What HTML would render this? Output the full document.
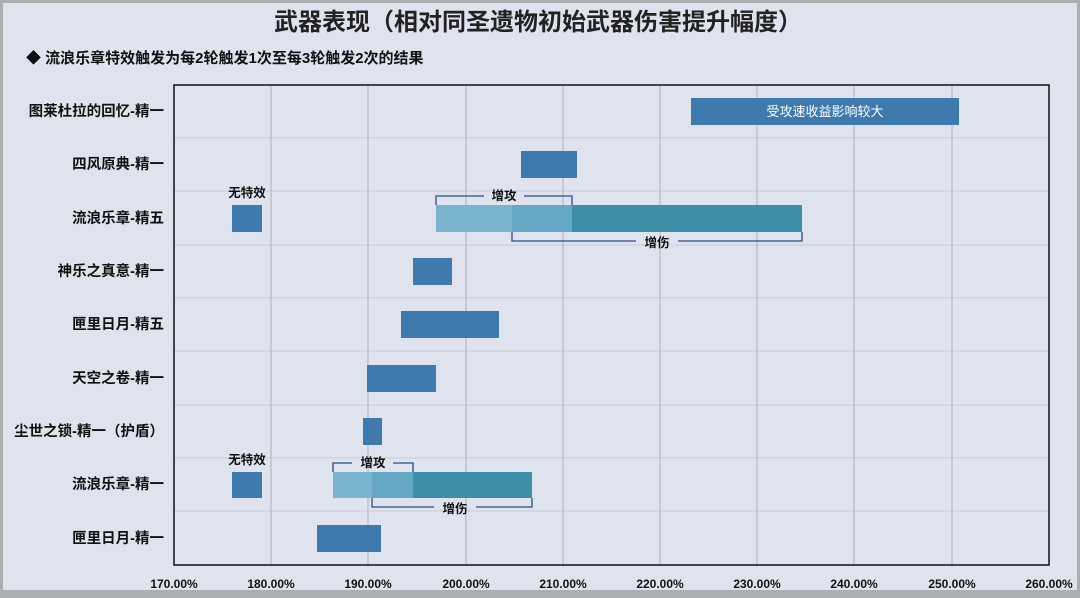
<!DOCTYPE html>
<html><head><meta charset="utf-8"><style>
html,body{margin:0;padding:0;background:#a9afb3;}
svg{display:block;font-family:"Liberation Sans","Noto Sans CJK SC",sans-serif;}
</style></head><body>
<svg width="1080" height="598" viewBox="0 0 1080 598">
<rect x="0" y="0" width="1080" height="598" fill="#a9afb3"/>
<rect x="3" y="3" width="1074" height="587" fill="#dee3ee"/>
<text x="538" y="30" text-anchor="middle" font-size="24" font-weight="bold" fill="#222">武器表现（相对同圣遗物初始武器伤害提升幅度）</text>
<text x="26" y="63" font-size="15" font-weight="bold" fill="#111">◆ 流浪乐章特效触发为每2轮触发1次至每3轮触发2次的结果</text>
<g stroke="#c6ccd7" stroke-width="1">
<line x1="174" y1="138" x2="1049" y2="138"/><line x1="174" y1="191" x2="1049" y2="191"/><line x1="174" y1="245" x2="1049" y2="245"/><line x1="174" y1="298" x2="1049" y2="298"/><line x1="174" y1="351" x2="1049" y2="351"/><line x1="174" y1="405" x2="1049" y2="405"/><line x1="174" y1="458" x2="1049" y2="458"/><line x1="174" y1="511" x2="1049" y2="511"/>
</g>
<g stroke="#a9afbb" stroke-width="1">
<line x1="271" y1="85" x2="271" y2="565"/><line x1="368" y1="85" x2="368" y2="565"/><line x1="466" y1="85" x2="466" y2="565"/><line x1="563" y1="85" x2="563" y2="565"/><line x1="660" y1="85" x2="660" y2="565"/><line x1="757" y1="85" x2="757" y2="565"/><line x1="854" y1="85" x2="854" y2="565"/><line x1="952" y1="85" x2="952" y2="565"/>
</g>
<rect x="174" y="85" width="875" height="480" fill="none" stroke="#111" stroke-width="1.5"/>
<g fill="#3f7aae">
<rect x="691" y="98" width="268" height="27"/>
<rect x="521" y="151" width="56" height="27"/>
<rect x="232" y="205" width="30" height="27"/>
<rect x="413" y="258" width="39" height="27"/>
<rect x="401" y="311" width="98" height="27"/>
<rect x="367" y="365" width="69" height="27"/>
<rect x="363" y="418" width="19" height="27"/>
<rect x="232" y="472" width="30" height="26"/>
<rect x="317" y="525" width="64" height="27"/>
</g>
<rect x="436" y="205" width="76" height="27" fill="#7ab3d0"/>
<rect x="512" y="205" width="60" height="27" fill="#64a8c4"/>
<rect x="572" y="205" width="230" height="27" fill="#3d8fa8"/>
<rect x="333" y="472" width="39" height="26" fill="#7ab3d0"/>
<rect x="372" y="472" width="41" height="26" fill="#64a8c4"/>
<rect x="413" y="472" width="119" height="26" fill="#3d8fa8"/>
<g fill="none" stroke="#2c4a86" stroke-width="1.3">
<polyline points="436,205 436,196 484,196"/><polyline points="524,196 572,196 572,205"/>
<polyline points="512,232 512,241 636,241"/><polyline points="678,241 802,241 802,232"/>
<polyline points="333,472 333,463 352,463"/><polyline points="393,463 413,463 413,472"/>
<polyline points="372,498 372,507 434,507"/><polyline points="476,507 532,507 532,498"/>
</g>
<g font-size="12.5" font-weight="bold" fill="#111" text-anchor="middle">
<text x="504" y="200">增攻</text><text x="657" y="247">增伤</text>
<text x="373" y="467">增攻</text><text x="455" y="513">增伤</text>
<text x="247" y="197">无特效</text><text x="247" y="464">无特效</text>
</g>
<text x="825" y="116" font-size="13" fill="#fff" text-anchor="middle">受攻速收益影响较大</text>
<g font-size="14.5" font-weight="bold" fill="#111" text-anchor="end">
<text x="164" y="116">图莱杜拉的回忆-精一</text>
<text x="164" y="169">四风原典-精一</text>
<text x="164" y="223">流浪乐章-精五</text>
<text x="164" y="276">神乐之真意-精一</text>
<text x="164" y="329">匣里日月-精五</text>
<text x="164" y="383">天空之卷-精一</text>
<text x="164" y="436">尘世之锁-精一（护盾）</text>
<text x="164" y="489">流浪乐章-精一</text>
<text x="164" y="543">匣里日月-精一</text>
</g>
<g font-size="12" font-weight="bold" fill="#111" text-anchor="middle">
<text x="174" y="588">170.00%</text><text x="271" y="588">180.00%</text><text x="368" y="588">190.00%</text><text x="466" y="588">200.00%</text><text x="563" y="588">210.00%</text><text x="660" y="588">220.00%</text><text x="757" y="588">230.00%</text><text x="854" y="588">240.00%</text><text x="952" y="588">250.00%</text><text x="1049" y="588">260.00%</text>
</g>
</svg>
</body></html>
